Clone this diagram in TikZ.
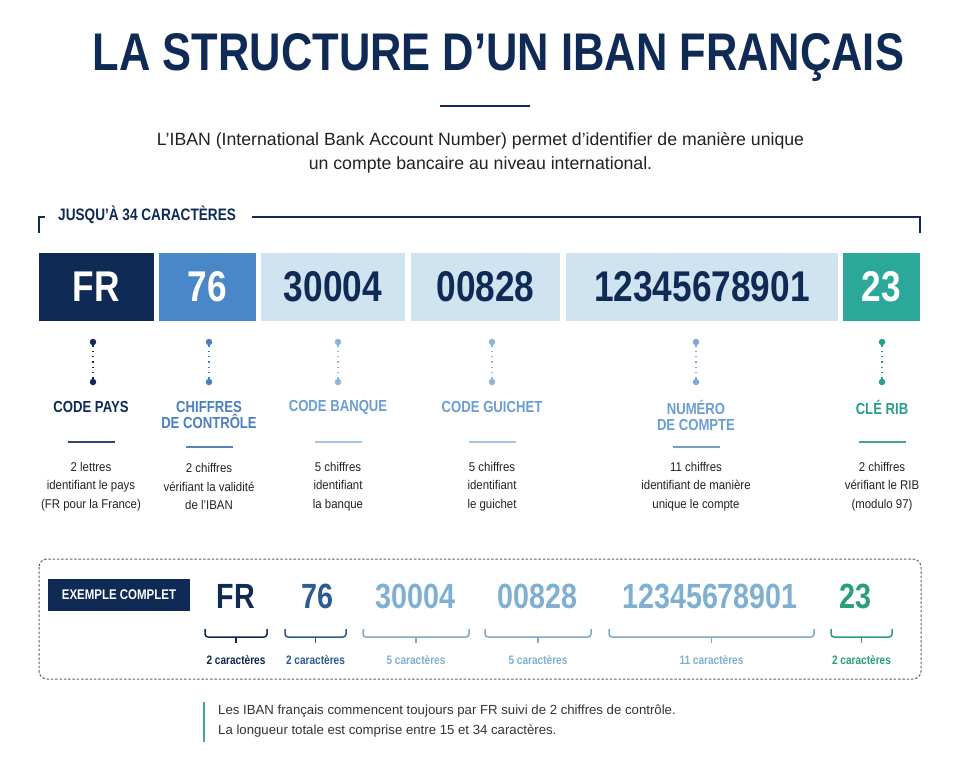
\documentclass[tikz,border=0pt]{standalone}
\usepackage{fontspec}
\setmainfont{Liberation Sans}
\newfontfamily\cnd[FakeStretch=0.82]{Liberation Sans}
\newfontfamily\dsc[FakeStretch=0.9]{Liberation Sans}
\definecolor{navy}{HTML}{0F2A55}
\definecolor{midblue}{HTML}{4A87C9}
\definecolor{lightbox}{HTML}{D0E3F1}
\definecolor{teal}{HTML}{2BA89A}
\definecolor{labblue}{HTML}{4A7FC0}
\definecolor{labpale}{HTML}{6A9ED4}
\definecolor{dotpale}{HTML}{8FB5D6}
\definecolor{dotnum}{HTML}{7FA8D6}
\definecolor{labteal}{HTML}{2A9D8A}
\definecolor{rulenavy}{HTML}{34466A}
\definecolor{rulemid}{HTML}{5A82B4}
\definecolor{rulepale}{HTML}{A3C5E2}
\definecolor{txt}{HTML}{222222}
\definecolor{exblue}{HTML}{2B5B94}
\definecolor{expale}{HTML}{7FB0D2}
\definecolor{exteal}{HTML}{2A9D7C}
\definecolor{dashgray}{HTML}{5A6070}
\definecolor{notetxt}{HTML}{333333}
\tikzset{
  seg/.style={minimum height=68pt, inner sep=0pt, font=\cnd\bfseries\fontsize{43}{43}\selectfont},
  dotnode/.style={circle, inner sep=0pt, minimum size=6.5pt},
  lab/.style={font=\cnd\bfseries\fontsize{16}{16}\selectfont, align=center, inner sep=0pt},
  desc/.style={font=\dsc\fontsize{12.7}{18.5}\selectfont, align=center, text=txt, inner sep=0pt},
  ex/.style={font=\cnd\bfseries\fontsize{35}{35}\selectfont, inner sep=0pt},
  capt/.style={font=\cnd\bfseries\fontsize{12.3}{13}\selectfont, inner sep=0pt},
  link/.style={line width=1.3pt, dash pattern=on 1.3pt off 4pt},
  shortrule/.style={line width=2pt},
  bracepath/.style={line width=1.5pt, rounded corners=3pt},
}
\begin{document}
\begin{tikzpicture}[x=1pt,y=-1pt]
\useasboundingbox (0,0) rectangle (960,768);
\fill[white] (0,0) rectangle (960,768);

% title
\node[font=\cnd\bfseries\fontsize{53}{53}\selectfont, text=navy, inner sep=0pt] (title) at (498.5,57) {LA STRUCTURE D’UN IBAN FRANÇAIS};
\draw[navy, line width=2.5pt] (440,106) -- (530,106);
\node[font=\fontsize{17.7}{24}\selectfont, text=txt, align=center, inner sep=0pt] (sub) at (480.5,153)
  {L’IBAN (International Bank Account Number) permet d’identifier de manière unique\\un compte bancaire au niveau international.};

% top bracket
\node[font=\cnd\bfseries\fontsize{16.6}{16}\selectfont, text=navy, anchor=west, inner sep=0pt] (jus) at (58,215) {JUSQU’À 34 CARACTÈRES};
\draw[navy, line width=1.5pt] (45,217) -- (39,217) -- (39,233);
\draw[navy, line width=1.5pt] (252,217) -- (920,217) -- (920,233);

% segment boxes
\node[seg, minimum width=115pt, fill=navy, text=white] (bFR) at (96.5,287) {FR};
\node[seg, minimum width=97pt, fill=midblue, text=white] (b76) at (207.5,287) {76};
\node[seg, minimum width=144pt, fill=lightbox, text=navy] (bBQ) at (333,287) {30004};
\node[seg, minimum width=149pt, fill=lightbox, text=navy] (bGU) at (485.5,287) {00828};
\node[seg, minimum width=272pt, fill=lightbox, text=navy] (bCP) at (702,287) {12345678901};
\node[seg, minimum width=77pt, fill=teal, text=white] (bRB) at (881.5,287) {23};

% dots and dotted links
\foreach \n/\x/\c in {1/93/navy, 2/209/labblue, 3/338/dotpale, 4/492/dotpale, 5/696/dotnum, 6/882/labteal}{
  \node[dotnode, fill=\c] (ta\n) at (\x,342) {};
  \node[dotnode, fill=\c] (tb\n) at (\x,382) {};
  \draw[link, \c] (ta\n) -- (tb\n);
}

% labels
\node[lab, text=navy] (l1) at (91,407) {CODE PAYS};
\node[lab, text=labblue] (l2) at (209,415) {CHIFFRES\\DE CONTRÔLE};
\node[lab, text=labpale] (l3) at (338,407) {CODE BANQUE};
\node[lab, text=labpale] (l4) at (492,407) {CODE GUICHET};
\node[lab, text=labpale] (l5) at (696,415) {NUMÉRO\\DE COMPTE};
\node[lab, text=labteal] (l6) at (882,407) {CLÉ RIB};

% short rules
\draw[shortrule, rulenavy] (68,442) -- (115,442);
\draw[shortrule, rulemid] (185.5,447) -- (232.5,447);
\draw[shortrule, rulepale] (314.5,442) -- (361.5,442);
\draw[shortrule, rulepale] (468.5,442) -- (515.5,442);
\draw[shortrule, rulemid!80] (672.5,447) -- (719.5,447);
\draw[shortrule, labteal!90] (858.5,442) -- (905.5,442);

% descriptions
\node[desc] (d1) at (91,486.5) {2 lettres\\identifiant le pays\\(FR pour la France)};
\node[desc] (d2) at (209,486.5) {2 chiffres\\vérifiant la validité\\de l’IBAN};
\node[desc] (d3) at (338,486.5) {5 chiffres\\identifiant\\la banque};
\node[desc] (d4) at (492,486.5) {5 chiffres\\identifiant\\le guichet};
\node[desc] (d5) at (696,486.5) {11 chiffres\\identifiant de manière\\unique le compte};
\node[desc] (d6) at (882,486.5) {2 chiffres\\vérifiant le RIB\\(modulo 97)};

% example frame
\draw[dashgray, line width=1pt, dash pattern=on 2.5pt off 1.8pt, rounded corners=8pt] (39,559) rectangle (921,679);
\node[fill=navy, text=white, minimum width=142pt, minimum height=32pt, inner sep=0pt,
      font=\cnd\bfseries\fontsize{14}{14}\selectfont] (exlab) at (119,595) {EXEMPLE COMPLET};

\node[ex, text=navy] (eFR) at (236,596) {FR};
\node[ex, text=exblue] (e76) at (317,596) {76};
\node[ex, text=expale] (eBQ) at (415.5,596) {30004};
\node[ex, text=expale] (eGU) at (537.5,596) {00828};
\node[ex, text=expale] (eCP) at (710,596) {12345678901};
\node[ex, text=exteal] (eRB) at (855,596) {23};

% braces
\foreach \a/\b/\c in {205/267/navy, 285/346/exblue, 363/469/expale!85!gray, 485/591/expale!85!gray, 609/814/expale!85!gray, 831/892/exteal}{
  \draw[bracepath, \c] (\a,629) -- (\a,637) -- (\b,637) -- (\b,629);
  \draw[\c, line width=1.5pt] ({(\a+\b)/2},637) -- ({(\a+\b)/2},643);
}
\node[capt, text=navy] (c1) at (236,660) {2 caractères};
\node[capt, text=exblue] (c2) at (315.5,660) {2 caractères};
\node[capt, text=expale] (c3) at (416,660) {5 caractères};
\node[capt, text=expale] (c4) at (538,660) {5 caractères};
\node[capt, text=expale] (c5) at (711.5,660) {11 caractères};
\node[capt, text=exteal] (c6) at (861.5,660) {2 caractères};

% note
\draw[labteal!90, line width=2.5pt] (204,702) -- (204,742);
\node[anchor=west, font=\fontsize{13.2}{20}\selectfont, text=notetxt, align=left, inner sep=0pt] (note) at (218,721.5)
  {Les IBAN français commencent toujours par FR suivi de 2 chiffres de contrôle.\\La longueur totale est comprise entre 15 et 34 caractères.};
\end{tikzpicture}
\end{document}
